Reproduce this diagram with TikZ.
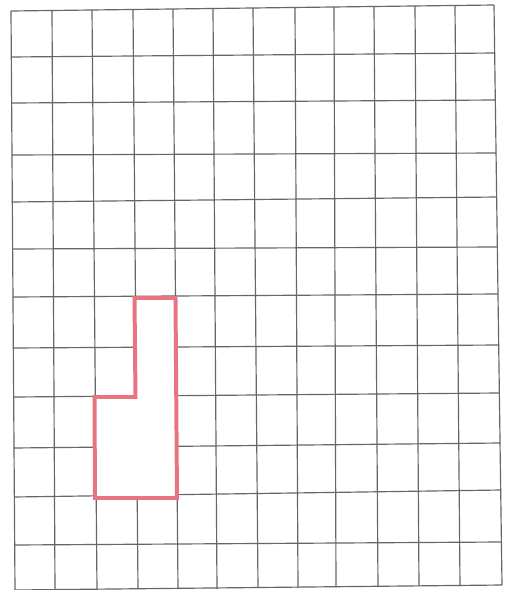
\documentclass[tikz,border=0pt]{standalone}
\usepackage{tikz}
\usetikzlibrary{positioning}

\definecolor{shapered}{RGB}{232,116,128}

\begin{document}
\begin{tikzpicture}[x=0.3mm, y=-0.3mm,
        gridline/.style={draw=black!60, line width=1pt},
        outline/.style={draw=shapered, line width=3.4pt, line join=miter}]

        \useasboundingbox[fill=white] (0,0) rectangle (507,590);

        % Grid (vertical lines)
        \foreach \xt/\yt/\xb/\yb in {11/11/15/590, 52/10/55/590, 92/10/97/590, 133/10/138/589,
                173/9/178/589, 213/9/217/589, 253/8/258/588, 295/8/298/588, 334/7/336/587,
                374/7/378/587, 415/6/419/586, 455/6/460/586, 494/5/502/585}
            \draw [gridline] (\xt,\yt) -- (\xb,\yb);

        % Grid (horizontal lines)
        \foreach \xl/\yl/\xr/\yr in {11/11/494/5, 11/57/495/53, 12/103/495/100, 12/155/496/153,
                12/202/497/197, 13/249/497/247, 13/297/498/294, 13/348/499/345, 14/397/499/393,
                14/448/500/443, 14/497/501/490, 15/545/501/542, 15/590/502/585}
            \draw [gridline] (\xl,\yl) -- (\xr,\yr);

        % Shape corners
        \coordinate (topleft) at (134.5,298);
        \coordinate (topright) at (175.5,298);
        \coordinate (bottomright) at (177,498);
        \coordinate (bottomleft) at (95,498);
        \coordinate (stepleft) at (94.5,397);
        \coordinate (stepright) at (135.5,397);

        % Shape
        \draw [outline, fill=white] (topleft) -- (topright) -- (bottomright) -- (bottomleft)
            -- (stepleft) -- (stepright) -- cycle;
\end{tikzpicture}
\end{document}
